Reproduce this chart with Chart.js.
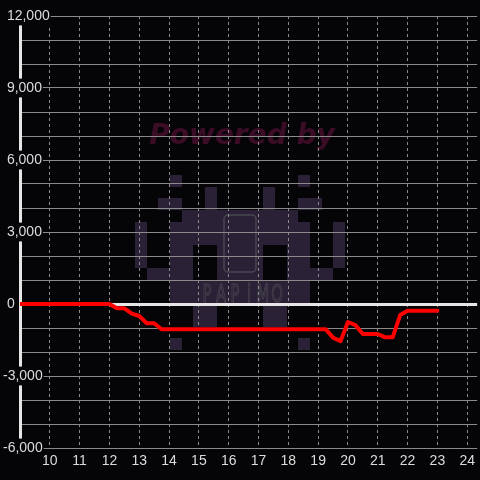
<!DOCTYPE html>
<html>
<head>
<meta charset="utf-8">
<script src="https://cdn.jsdelivr.net/npm/chart.js@4.4.1/dist/chart.umd.min.js"></script>
<style>
  html, body { margin: 0; padding: 0; background: #050407; }
  #wrap { width: 480px; height: 480px; }
</style>
</head>
<body>
<div id="wrap"><canvas id="chart"></canvas></div>
<script>
// hour of day -> running value
const hours = [9, 12, 12.25, 12.5, 12.75, 13, 13.25, 13.5, 13.75, 19.25, 19.5, 19.75, 20, 20.25, 20.5, 21, 21.25, 21.5, 21.75, 22, 23];
const values = [0, 0, -180, -180, -400, -500, -800, -800, -1050, -1050, -1400, -1550, -750, -880, -1250, -1250, -1390, -1390, -460, -280, -280];

const xTickLabels = [10, 11, 12, 13, 14, 15, 16, 17, 18, 19, 20, 21, 22, 23, 24];
const yTickLabels = [-6000, -3000, 0, 3000, 6000, 9000, 12000];

const bg = '#050407';
const textColor = '#dcdcdc';

// watermark bitmap (space invader)
const invader = [
  '...#..........#...',
  '......#....#......',
  '..##..#....#..##..',
  '....##########....',
  '#..############..#',
  '#..############..#',
  '#..##..####..##..#',
  '#..##..####..##..#',
  '.####..####..####.',
  '...############...',
  '...############...',
  '.....##....##.....',
  '.....##....##.....',
  '..................',
  '...#..........#...'
];

const watermark = {
  id: 'watermark',
  beforeDraw(chart) {
    const ctx = chart.ctx;
    ctx.save();
    ctx.fillStyle = bg;
    ctx.fillRect(0, 0, chart.width, chart.height);

    // pixel logo
    const cell = 11.67, x0 = 135, y0 = 175;
    ctx.fillStyle = '#2a2136';
    invader.forEach((row, r) => {
      for (let c = 0; c < row.length; c++) {
        if (row[c] !== '#') continue;
        const xa = Math.round(x0 + c * cell), xb = Math.round(x0 + (c + 1) * cell);
        const ya = Math.round(y0 + r * cell), yb = Math.round(y0 + (r + 1) * cell);
        ctx.fillRect(xa, ya, xb - xa, yb - ya);
      }
    });

    // phone outline
    ctx.strokeStyle = '#4a4550';
    ctx.lineWidth = 1.5;
    ctx.beginPath();
    ctx.roundRect(224, 215, 32, 57, 4);
    ctx.stroke();

    // PAPiMO
    ctx.strokeStyle = '#4a4750';
    ctx.lineWidth = 1;
    ctx.font = '24px "DejaVu Sans"';
    ctx.textAlign = 'center';
    ctx.textBaseline = 'alphabetic';
    'PAPiMO'.split('').forEach((ch, i) => {
      ctx.save();
      ctx.translate(207 + i * 14, 302);
      ctx.scale(0.62, 1);
      ctx.strokeText(ch, 0, 0);
      ctx.restore();
    });

    // Powered by
    ctx.fillStyle = '#3a0c25';
    ctx.font = 'bold italic 28px "DejaVu Sans"';
    ctx.textAlign = 'center';
    ctx.fillText('Powered by', 242, 144);
    ctx.restore();
  }
};

new Chart(document.getElementById('chart'), {
  type: 'line',
  data: {
    datasets: [{
      data: hours.map((h, i) => ({ x: h, y: values[i] })),
      borderColor: '#ff0000',
      borderWidth: 4,
      borderJoinStyle: 'round',
      borderCapStyle: 'round',
      pointRadius: 0,
      tension: 0,
      fill: false
    }]
  },
  options: {
    responsive: true,
    maintainAspectRatio: false,
    animation: false,
    layout: { padding: { top: 16, left: 6, right: 0, bottom: 0 } },
    plugins: {
      legend: { display: false },
      tooltip: { enabled: false }
    },
    scales: {
      x: {
        type: 'linear',
        min: 9,
        max: 24.333,
        afterFit: (axis) => { axis.height = 32; },
        border: { display: false, dash: [3, 3] },
        grid: {
          color: '#8a8a8a',
          lineWidth: 1,
          drawTicks: false
        },
        ticks: {
          stepSize: 1,
          includeBounds: false,
          padding: 5,
          color: textColor,
          font: { family: '"Liberation Sans", Arial, sans-serif', size: 14 },
          maxRotation: 0,
          autoSkip: false,
          callback: (v) => xTickLabels.includes(v) ? String(v) : ''
        }
      },
      y: {
        min: -6000,
        max: 12000,
        afterFit: (axis) => { axis.width = 14; },
        border: { display: true, color: '#e6e6e6', width: 3 },
        grid: {
          color: (c) => c.tick && c.tick.value === 0 ? '#e6e6e6' : '#8a8a8a',
          lineWidth: (c) => c.tick && c.tick.value === 0 ? 3 : 1,
          drawTicks: false
        },
        ticks: {
          stepSize: 1000,
          mirror: true,
          padding: -17,
          crossAlign: 'near',
          color: textColor,
          font: { family: '"Liberation Sans", Arial, sans-serif', size: 14 },
          showLabelBackdrop: true,
          backdropColor: (c) => c.tick && yTickLabels.includes(c.tick.value) ? bg : 'rgba(0,0,0,0)',
          backdropPadding: { top: 1, bottom: 1, left: 1, right: 1 },
          // positive labels get a leading space so the minus sign hangs left
          callback: (v) => {
            if (!yTickLabels.includes(v)) return '';
            const s = v.toLocaleString('en-US');
            return v < 0 ? s : ' ' + s;
          }
        }
      }
    }
  },
  plugins: [watermark]
});
</script>
</body>
</html>
